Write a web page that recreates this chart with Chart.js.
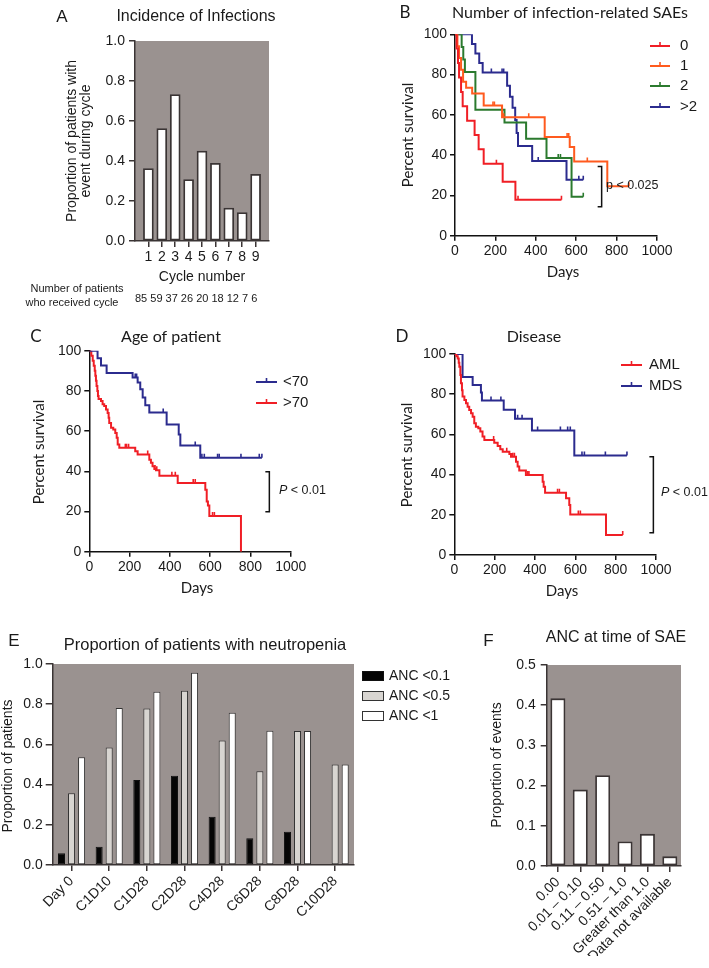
<!DOCTYPE html>
<html><head><meta charset="utf-8">
<script src="https://cdn.jsdelivr.net/npm/chart.js@4.4.1/dist/chart.umd.min.js"></script>
<style>
html,body{margin:0;padding:0;background:#fff;}
#wrap{position:relative;width:709px;height:968px;overflow:hidden;background:#fff;}
canvas{position:absolute;left:0;top:0;}
</style></head><body><div id="wrap">
<canvas id="cA" width="709" height="968"></canvas>
<canvas id="cB" width="709" height="968"></canvas>
<canvas id="cC" width="709" height="968"></canvas>
<canvas id="cD" width="709" height="968"></canvas>
<canvas id="cE" width="709" height="968"></canvas>
<canvas id="cF" width="709" height="968"></canvas>
</div>
<script>
// ---------- DATA ----------
// Panel A
const cycles = [1, 2, 3, 4, 5, 6, 7, 8, 9];
const incidence = [0.362, 0.562, 0.732, 0.307, 0.45, 0.388, 0.165, 0.142, 0.333];
const patientsPerCycle = [85, 59, 37, 26, 20, 18, 12, 7, 6];

// Panel B : number of infection-related SAEs
const b0Days = [8, 15, 20, 30, 38, 60, 97, 117, 142, 236, 299];
const b0Surv = [92.9, 85.7, 78.6, 71.4, 64.3, 57.1, 50.0, 42.9, 35.7, 26.8, 17.9];
const b0Cens = [205, 312, 527];
const b1Days = [12, 20, 30, 40, 55, 85, 142, 233, 444, 568, 590, 754];
const b1Surv = [94.1, 88.2, 82.4, 76.5, 73.5, 70.6, 64.7, 58.8, 49.0, 44.1, 36.8, 24.5];
const b1Cens = [188, 195, 241, 365, 555, 563, 655, 861];
const b2Days = [33, 41, 49, 101, 245, 352, 453, 577];
const b2Surv = [93.75, 87.5, 81.25, 62.5, 56.25, 48.2, 38.6, 19.3];
const b2Cens = [233, 511, 522, 635];
const b3Days = [84, 101, 120, 137, 258, 272, 285, 298, 305, 312, 382, 552];
const b3Surv = [95.2, 90.5, 85.7, 81.0, 74.5, 69.0, 63.5, 57.5, 51.0, 44.5, 37.1, 27.8];
const b3Cens = [180, 233, 241, 412, 613, 635];
const bLabels = ['0', '1', '2', '>2'];

// Panel C : age of patient
const cYoungDays = [41, 58, 86, 215, 240, 253, 265, 278, 298, 384, 444, 452, 551];
const cYoungSurv = [96.3, 92.6, 88.9, 86.7, 84.2, 80.8, 76.7, 72.8, 69.2, 63.3, 58.3, 52.8, 46.7];
const cYoungCens = [228, 235, 367, 526, 559, 571, 637, 645, 753, 844, 857];
const cOldDays = [10, 17, 22, 27, 30, 33, 36, 40, 43, 46, 58, 66, 74, 83, 91, 96, 99, 108, 119, 129, 136, 141, 149, 228, 240, 298, 306, 314, 323, 331, 348, 439, 576, 583, 589, 596, 753];
const cOldSurv = [97.5, 95, 92.5, 90, 87.5, 85, 82.5, 80, 77.5, 76, 75, 73.3, 72.5, 70.8, 69, 66.7, 64, 61.7, 60.8, 59, 56.7, 53.3, 51.7, 50, 48.3, 45.8, 44.2, 42.5, 41.2, 40.5, 37.8, 34.2, 30.8, 25, 23, 17.8, 0];
const cOldCens = [179, 185, 195, 290, 326, 335, 410, 427, 516, 526, 612, 621];
const cLabels = ['<70', '>70'];

// Panel D : disease
const dAmlDays = [10, 17, 22, 25, 30, 33, 38, 41, 50, 58, 66, 74, 83, 91, 99, 107, 119, 129, 140, 149, 198, 215, 228, 240, 273, 281, 306, 314, 322, 355, 438, 443, 450, 554, 570, 575, 752];
const dAmlSurv = [98.9, 97.8, 95.6, 93.7, 89.6, 85.4, 82, 78.8, 77.1, 75.5, 73.8, 72.1, 70.5, 68.8, 65.5, 63.8, 63, 61.4, 58.9, 57.2, 55.9, 54.2, 52.6, 51.4, 50.2, 48.9, 46.4, 44, 42, 39.8, 36.5, 34, 31, 28.2, 24.9, 20.2, 10];
const dAmlCens = [195, 260, 290, 298, 364, 370, 512, 521, 615, 625, 835];
const dMdsDays = [41, 91, 132, 137, 245, 301, 385, 595];
const dMdsSurv = [88.5, 84.6, 80.8, 76.9, 72.3, 67.8, 61.9, 49.5];
const dMdsCens = [182, 231, 314, 336, 413, 526, 562, 575, 633, 645, 749, 856];
const dLabels = ['AML', 'MDS'];

// Panel E : neutropenia
const eCats = ['Day 0', 'C1D10', 'C1D28', 'C2D28', 'C4D28', 'C6D28', 'C8D28', 'C10D28'];
const anc01 = [0.058, 0.091, 0.423, 0.444, 0.24, 0.133, 0.166, 0];
const anc05 = [0.357, 0.584, 0.779, 0.867, 0.62, 0.466, 0.667, 0.5];
const anc1 = [0.536, 0.781, 0.862, 0.957, 0.758, 0.668, 0.667, 0.5];
const eLabels = ['ANC <0.1', 'ANC <0.5', 'ANC <1'];

// Panel F : ANC at time of SAE
const fCats = ['0.00', '0.01 \u2013 0.10', '0.11 \u2013 0.50', '0.51 \u2013 1.0', 'Greater than 1.0', 'Data not available'];
const fVals = [0.417, 0.19, 0.226, 0.061, 0.080, 0.024];

// ---------- STYLE ----------
const W = 709, H = 968;
const FONT = '"Liberation Sans", Arial, Helvetica, sans-serif';
const FONT2 = 'Lato, "Liberation Sans", Arial, sans-serif';
const RED = '#f01e25', ORANGE = '#ff5a1e', GREEN = '#2b7a2e', BLUE = '#2b2b8e';
const BG = '#9a9290', EDGE = '#3a3434', INK = '#1a1a1a';

Chart.defaults.font.family = FONT;
Chart.defaults.color = INK;

const common = {
  responsive: false, animation: false, events: [],
  plugins: { legend: { display: false }, tooltip: { enabled: false } }
};

function frame(box, yW, xH) {
  return { padding: { left: box.l - yW, top: box.t, right: W - box.r, bottom: H - box.b - xH } };
}

function axis(o) {
  const s = {
    min: o.min, max: o.max,
    ticks: { font: { size: o.size || 14, family: FONT }, color: INK, padding: o.pad, autoSkip: false,
      maxRotation: o.rot || 0, minRotation: o.rot || 0 },
    grid: { display: true, drawOnChartArea: false, drawTicks: true, tickLength: o.tl, color: o.color, lineWidth: 1.5, offset: false },
    border: { display: true, color: o.color, width: 1.5 },
    afterFit: o.w ? (sc => { sc.width = o.w; }) : (sc => { sc.height = o.h; })
  };
  if (o.type) s.type = o.type;
  if (o.step !== undefined) s.ticks.stepSize = o.step;
  if (o.fmt) s.ticks.callback = o.fmt;
  if (o.offset !== undefined) s.offset = o.offset;
  if (o.abt) s.afterBuildTicks = o.abt;
  return s;
}

function drawText(ctx, t) {
  ctx.save();
  ctx.font = t.font; ctx.fillStyle = t.color || INK;
  ctx.textAlign = t.align || 'center'; ctx.textBaseline = 'middle';
  ctx.translate(t.x, t.y);
  if (t.rot) ctx.rotate(t.rot * Math.PI / 180);
  ctx.fillText(t.text, 0, 0);
  ctx.restore();
}

function deco(cfg) {
  return {
    id: 'deco',
    beforeDraw(chart) {
      if (!cfg.bg) return;
      const a = chart.chartArea, ctx = chart.ctx;
      ctx.save(); ctx.fillStyle = cfg.bg;
      ctx.fillRect(a.left, a.top, a.right - a.left, a.bottom - a.top);
      ctx.restore();
    },
    afterDraw(chart) {
      const ctx = chart.ctx;
      (cfg.texts || []).forEach(t => drawText(ctx, t));
      if (cfg.after) cfg.after(chart, ctx);
    }
  };
}

function survAt(days, surv, t) {
  let v = 100;
  for (let i = 0; i < days.length; i++) if (days[i] <= t) v = surv[i];
  return v;
}

function km(label, days, surv, cens, color) {
  const pts = [{ x: 0, y: 100 }];
  days.forEach((d, i) => pts.push({ x: d, y: surv[i] }));
  const lastD = days[days.length - 1];
  const end = Math.max(lastD, cens.length ? cens[cens.length - 1] : 0);
  if (end > lastD) pts.push({ x: end, y: surv[surv.length - 1] });
  const ticks = cens.map(c => ({ x: c, y: survAt(days, surv, c) }));
  return [
    { label, data: pts, showLine: true, stepped: true, borderColor: color, borderWidth: 2,
      pointRadius: 0, fill: false, isCurve: true },
    { label: label + ' censored', data: ticks, showLine: false, pointStyle: 'dash', rotation: -90,
      pointRadius: 4, pointBorderColor: color, pointBorderWidth: 1.6, pointBackgroundColor: color }
  ];
}

function kmLegend(chart, ctx, x1, x2, tx, ys, font) {
  const items = chart.data.datasets.filter(d => d.isCurve);
  items.forEach((it, i) => {
    const y = ys[i];
    ctx.save();
    ctx.strokeStyle = it.borderColor; ctx.lineWidth = 2;
    ctx.beginPath(); ctx.moveTo(x1, y); ctx.lineTo(x2, y); ctx.stroke();
    const xm = (x1 + x2) / 2;
    ctx.lineWidth = 1.6; ctx.beginPath(); ctx.moveTo(xm, y); ctx.lineTo(xm, y - 4); ctx.stroke();
    ctx.fillStyle = INK; ctx.font = font; ctx.textAlign = 'left'; ctx.textBaseline = 'middle';
    ctx.fillText(it.label, tx, y);
    ctx.restore();
  });
}

function bracket(chart, ctx, day, y1, y2) {
  const xs = chart.scales.x, ys = chart.scales.y;
  const x = xs.getPixelForValue(day), a = ys.getPixelForValue(y1), b = ys.getPixelForValue(y2);
  ctx.save(); ctx.strokeStyle = '#111'; ctx.lineWidth = 1.5;
  ctx.beginPath(); ctx.moveTo(x - 4, a); ctx.lineTo(x, a); ctx.lineTo(x, b); ctx.lineTo(x - 4, b); ctx.stroke();
  ctx.restore();
}

function pText(ctx, x, y, size) {
  ctx.save(); ctx.fillStyle = INK; ctx.textBaseline = 'middle'; ctx.textAlign = 'left';
  ctx.font = 'italic ' + size + 'px ' + FONT;
  ctx.fillText('P', x, y);
  const w = ctx.measureText('P').width;
  ctx.font = size + 'px ' + FONT;
  ctx.fillText(' < 0.01', x + w, y);
  ctx.restore();
}

function kmScales() {
  return {
    x: axis({ type: 'linear', min: 0, max: 1000, step: 200, tl: 5, pad: 2, color: '#111', h: 30, fmt: v => String(v) }),
    y: axis({ min: 0, max: 100, step: 20, tl: 5, pad: 3, color: '#111', w: 40, fmt: v => String(v) })
  };
}

// ---------- PANEL A ----------
const boxA = { l: 135, r: 269, t: 41, b: 241 };
new Chart(document.getElementById('cA'), {
  type: 'bar',
  data: { datasets: [{ data: cycles.map((c, i) => ({ x: c, y: incidence[i] })), backgroundColor: '#fff',
    borderColor: EDGE, borderWidth: 1.8, borderSkipped: false, barThickness: 10 }] },
  options: Object.assign({}, common, {
    layout: frame(boxA, 40, 30),
    scales: {
      x: axis({ type: 'linear', min: 0, max: 10, step: 1, tl: 6, pad: 2, color: EDGE, h: 30, offset: false,
        abt: sc => { sc.ticks = cycles.map(v => ({ value: v })); } }),
      y: axis({ min: 0, max: 1, step: 0.2, tl: 6, pad: 4, color: EDGE, w: 40, fmt: v => v.toFixed(1) })
    }
  }),
  plugins: [deco({
    bg: BG,
    texts: [
      { text: 'A', x: 62, y: 17, font: '17px ' + FONT },
      { text: 'Incidence of Infections', x: 196, y: 17, font: '16px ' + FONT },
      { text: 'Proportion of patients with', x: 72, y: 141, rot: -90, font: '14px ' + FONT },
      { text: 'event during cycle', x: 86, y: 141, rot: -90, font: '14px ' + FONT },
      { text: 'Cycle number', x: 202, y: 277, font: '14px ' + FONT },
      { text: 'Number of patients', x: 77, y: 289, font: '11px ' + FONT },
      { text: 'who received cycle', x: 72, y: 303, font: '11px ' + FONT },
      { text: patientsPerCycle.join(' '), x: 135, y: 299, align: 'left', font: '11px ' + FONT }
    ]
  })]
});

// ---------- PANEL B ----------
const boxB = { l: 455, r: 657, t: 34.3, b: 235.7 };
new Chart(document.getElementById('cB'), {
  type: 'scatter',
  data: { datasets: [].concat(
    km(bLabels[0], b0Days, b0Surv, b0Cens, RED),
    km(bLabels[1], b1Days, b1Surv, b1Cens, ORANGE),
    km(bLabels[2], b2Days, b2Surv, b2Cens, GREEN),
    km(bLabels[3], b3Days, b3Surv, b3Cens, BLUE)) },
  options: Object.assign({}, common, { layout: frame(boxB, 40, 30), scales: kmScales() }),
  plugins: [deco({
    texts: [
      { text: 'B', x: 405, y: 13, font: '17px ' + FONT2 },
      { text: 'Number of infection-related SAEs', x: 570, y: 13, font: '16px ' + FONT2 },
      { text: 'Percent survival', x: 408, y: 135, rot: -90, font: '15px ' + FONT2 },
      { text: 'Days', x: 563, y: 272, font: '15px ' + FONT2 },
      { text: 'p < 0.025', x: 606, y: 186, align: 'left', font: '12.5px ' + FONT }
    ],
    after: (chart, ctx) => {
      kmLegend(chart, ctx, 650, 670, 680, [46, 66, 86, 107], '15px ' + FONT);
      bracket(chart, ctx, 726, 34.3, 14.4);
    }
  })]
});

// ---------- PANEL C ----------
const boxC = { l: 89.3, r: 290.7, t: 350.7, b: 551.7 };
new Chart(document.getElementById('cC'), {
  type: 'scatter',
  data: { datasets: [].concat(
    km(cLabels[0], cYoungDays, cYoungSurv, cYoungCens, BLUE),
    km(cLabels[1], cOldDays, cOldSurv, cOldCens, RED)) },
  options: Object.assign({}, common, { layout: frame(boxC, 40, 30), scales: kmScales() }),
  plugins: [deco({
    texts: [
      { text: 'C', x: 36, y: 337, font: '17px ' + FONT2 },
      { text: 'Age of patient', x: 171, y: 337, font: '16px ' + FONT2 },
      { text: 'Percent survival', x: 39, y: 452, rot: -90, font: '15px ' + FONT2 },
      { text: 'Days', x: 197, y: 588, font: '15px ' + FONT2 }
    ],
    after: (chart, ctx) => {
      kmLegend(chart, ctx, 256, 277, 283, [382, 403], '15px ' + FONT);
      bracket(chart, ctx, 894, 39.8, 19.9);
      pText(ctx, 279, 491, 12.5);
    }
  })]
});

// ---------- PANEL D ----------
const boxD = { l: 454.3, r: 656, t: 354, b: 555 };
new Chart(document.getElementById('cD'), {
  type: 'scatter',
  data: { datasets: [].concat(
    km(dLabels[0], dAmlDays, dAmlSurv, dAmlCens, RED),
    km(dLabels[1], dMdsDays, dMdsSurv, dMdsCens, BLUE)) },
  options: Object.assign({}, common, { layout: frame(boxD, 40, 30), scales: kmScales() }),
  plugins: [deco({
    texts: [
      { text: 'D', x: 402, y: 337, font: '17px ' + FONT2 },
      { text: 'Disease', x: 534, y: 337, font: '16px ' + FONT2 },
      { text: 'Percent survival', x: 407, y: 455, rot: -90, font: '15px ' + FONT2 },
      { text: 'Days', x: 562, y: 591, font: '15px ' + FONT2 }
    ],
    after: (chart, ctx) => {
      kmLegend(chart, ctx, 621, 642, 649, [365, 386], '15px ' + FONT);
      bracket(chart, ctx, 987, 48.9, 11.1);
      pText(ctx, 661, 493, 12.5);
    }
  })]
});

// ---------- PANEL E ----------
const boxE = { l: 52.7, r: 354, t: 664, b: 865 };
new Chart(document.getElementById('cE'), {
  type: 'bar',
  data: { labels: eCats, datasets: [
    { label: eLabels[0], data: anc01, backgroundColor: '#050505', borderColor: '#111', borderWidth: 1 },
    { label: eLabels[1], data: anc05, backgroundColor: '#d8d5d1', borderColor: '#333', borderWidth: 1 },
    { label: eLabels[2], data: anc1, backgroundColor: '#ffffff', borderColor: '#333', borderWidth: 1 }
  ] },
  options: Object.assign({}, common, {
    layout: frame(boxE, 40, 70),
    datasets: { bar: { categoryPercentage: 0.8, barPercentage: 0.7, borderSkipped: false } },
    scales: {
      x: axis({ tl: 6, pad: 2, color: EDGE, h: 70, rot: 45, offset: true }),
      y: axis({ min: 0, max: 1, step: 0.2, tl: 7, pad: 3, color: EDGE, w: 40, fmt: v => v.toFixed(1) })
    }
  }),
  plugins: [deco({
    bg: BG,
    texts: [
      { text: 'E', x: 14, y: 641, font: '17px ' + FONT },
      { text: 'Proportion of patients with neutropenia', x: 205, y: 645, font: '16.5px ' + FONT },
      { text: 'Proportion of patients', x: 8, y: 766, rot: -90, font: '14px ' + FONT }
    ],
    after: (chart, ctx) => {
      const rows = [676, 696, 716];
      chart.data.datasets.forEach((d, i) => {
        ctx.save();
        ctx.fillStyle = d.backgroundColor; ctx.strokeStyle = d.borderColor; ctx.lineWidth = 1;
        ctx.fillRect(362, rows[i] - 4.5, 21, 9); ctx.strokeRect(362.5, rows[i] - 4.5, 21, 9);
        ctx.fillStyle = INK; ctx.font = '14px ' + FONT; ctx.textAlign = 'left'; ctx.textBaseline = 'middle';
        ctx.fillText(d.label, 389, rows[i]);
        ctx.restore();
      });
    }
  })]
});

// ---------- PANEL F ----------
const boxF = { l: 546.7, r: 681, t: 665, b: 866 };
new Chart(document.getElementById('cF'), {
  type: 'bar',
  data: { labels: fCats, datasets: [
    { data: fVals, backgroundColor: '#fff', borderColor: EDGE, borderWidth: 1.8, borderSkipped: false,
      categoryPercentage: 1.0, barPercentage: 0.67 }
  ] },
  options: Object.assign({}, common, {
    layout: frame(boxF, 40, 90),
    scales: {
      x: axis({ tl: 6, pad: 2, color: EDGE, h: 90, rot: 45, offset: true }),
      y: axis({ min: 0, max: 0.5, step: 0.1, tl: 6, pad: 5, color: EDGE, w: 40, fmt: v => v.toFixed(1) })
    }
  }),
  plugins: [deco({
    bg: BG,
    texts: [
      { text: 'F', x: 488.5, y: 641, font: '17px ' + FONT },
      { text: 'ANC at time of SAE', x: 616, y: 637.5, font: '16px ' + FONT },
      { text: 'Proportion of events', x: 497, y: 765, rot: -90, font: '14px ' + FONT }
    ]
  })]
});
</script>
</body></html>
